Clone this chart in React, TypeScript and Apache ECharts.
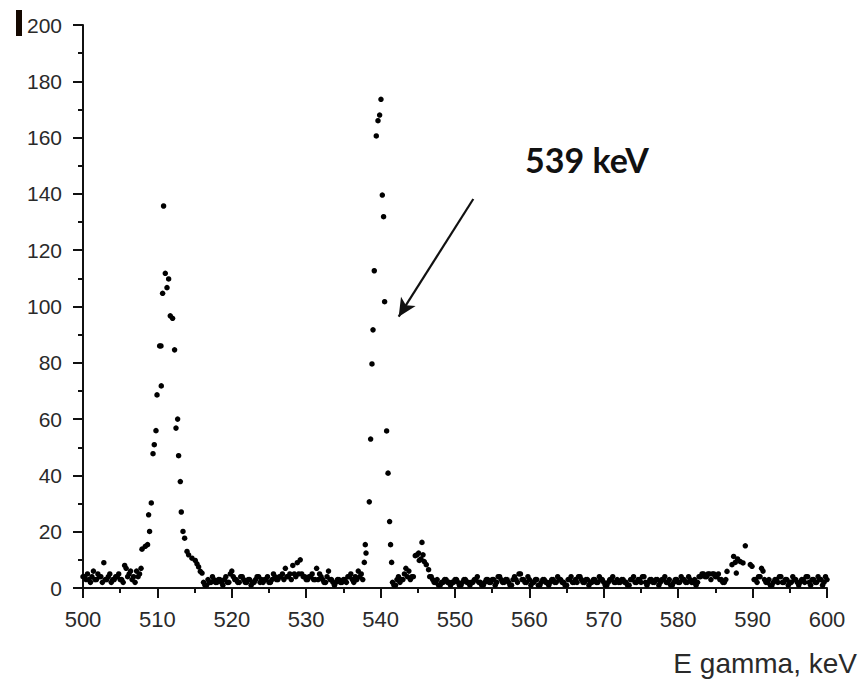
import React, { useEffect, useRef } from "react";
import * as echarts from "echarts";

// ---- Data ----
const BIN = 0.2; // keV per channel on the flat background
const X_TICKS = { min: 500, max: 600, interval: 10 };
const Y_TICKS = { min: 0, max: 200, interval: 20 };

// background segments: start energy + counts per 0.2 keV channel
const bgAStart = 500.0;
const bgA = [
  4, 4, 3, 5, 3, 2, 4, 6, 3, 3,
  5, 4, 4, 2, 9, 3, 3, 4, 5, 2,
  3, 3, 4, 4, 5, 3, 3, 2, 8, 7,
  4, 5, 6, 3, 4, 2, 6, 4, 5, 7,
];
const bgBStart = 516.2;
const bgB = [
  2, 1, 1, 3, 2, 2, 4, 3, 2, 2,
  3, 3, 2, 1, 3, 4, 2, 2, 5, 6,
  4, 3, 3, 2, 2, 4, 4, 3, 2, 2,
  3, 3, 1, 2, 2, 3, 4, 4, 2, 3,
  2, 3, 3, 4, 2, 2, 3, 5, 4, 3,
  3, 4, 4, 5, 3, 7, 4, 4, 5, 3,
  8, 5, 4, 9, 5, 10, 5, 4, 4, 3,
  3, 4, 4, 5, 3, 3, 7, 3, 5, 4,
  3, 2, 2, 4, 6, 3, 3, 2, 1, 2,
  3, 3, 2, 2, 3, 3, 2, 4, 4, 5,
  3, 2, 4, 3, 6, 4, 5, 3,
];
const bgCStart = 541.6;
const bgC = [2, 1, 1, 3, 4, 2, 3, 3, 5, 7, 4, 6, 3, 4, 4];
const bgDStart = 546.6;
const bgD = [
  4, 4, 3, 2, 2, 3, 1, 1, 2, 2,
  3, 3, 2, 2, 1, 2, 2, 3, 3, 2,
  1, 1, 2, 3, 3, 2, 2, 1, 2, 2,
  3, 3, 4, 2, 2, 1, 1, 2, 3, 3,
  2, 2, 3, 3, 1, 2, 4, 4, 3, 2,
  2, 3, 3, 2, 1, 1, 3, 4, 3, 2,
  5, 5, 3, 3, 2, 2, 4, 3, 1, 2,
  2, 3, 3, 1, 1, 2, 3, 3, 2, 2,
  1, 2, 3, 3, 2, 2, 4, 3, 3, 2,
  2, 1, 1, 3, 3, 4, 2, 2, 3, 2,
  4, 4, 3, 2, 2, 3, 3, 1, 2, 2,
  3, 3, 2, 2, 4, 3, 3, 2, 1, 1,
  2, 3, 3, 4, 2, 2, 3, 2, 2, 3,
  3, 2, 2, 1, 1, 3, 3, 4, 2, 2,
  3, 3, 2, 4, 4, 2, 1, 2, 3, 3,
  2, 2, 3, 3, 1, 2, 3, 3, 4, 2,
  2, 3, 1, 1, 2, 3, 3, 2, 2, 4,
  3, 3, 2, 2, 4, 3, 2, 2, 3, 1,
  2, 4, 4, 5, 5, 4, 4, 5, 5, 3,
  5, 5, 4, 4, 5, 3, 3, 2, 2, 3,
];
const bgEStart = 590.2;
const bgE = [
  3, 3, 2, 4, 4, 7, 6, 3, 2, 2,
  3, 1, 1, 2, 3, 3, 2, 4, 4, 2,
  2, 3, 3, 1, 2, 2, 4, 3, 3, 2,
  1, 2, 3, 3, 2, 4, 4, 2, 1, 3,
  3, 2, 2, 4, 3, 3, 1, 2, 4, 3,
];

// peaks: individually read points
const peak511E = [
  507.93, 508.37, 508.68, 508.82, 508.95, 509.18, 509.41, 509.58, 509.81, 509.95,
  510.3, 510.48, 510.52, 510.7, 510.83, 511.06, 511.29, 511.51, 511.73, 512.04,
  512.31, 512.5, 512.72, 512.85, 513.08, 513.21, 513.44, 513.66, 513.98, 514.19,
  514.65, 515.09, 515.32, 515.54, 515.77, 516.0,
];
const peak511C = [
  13.8, 14.8, 15.4, 26.0, 20.1, 30.2, 47.7, 50.9, 55.9, 68.6,
  86.0, 86.0, 71.8, 104.7, 135.7, 111.8, 106.7, 109.8, 96.7, 95.8,
  84.6, 56.8, 60.0, 47.0, 37.8, 27.0, 20.1, 17.7, 13.0, 11.8,
  10.6, 9.8, 8.6, 7.5, 5.9, 5.3,
];
const peak539E = [
  537.81, 537.94, 538.04, 538.48, 538.66, 538.84, 538.98, 539.15, 539.42, 539.65,
  539.87, 540.05, 540.23, 540.4, 540.54, 540.81, 541.0, 541.21, 541.34, 541.48,
];
const peak539C = [
  9.1, 15.4, 12.4, 30.6, 52.9, 79.6, 91.7, 112.7, 160.6, 166.0,
  168.0, 173.6, 139.6, 131.9, 101.7, 55.8, 40.8, 23.6, 15.4, 9.1,
];
const peak545E = [544.66, 544.89, 545.11, 545.2, 545.43, 545.56, 545.7, 545.87, 546.14, 546.45];
const peak545C = [11.5, 11.8, 12.4, 9.8, 10.3, 16.2, 11.8, 9.4, 8.3, 6.5];
const peak588E = [586.56, 587.23, 587.45, 587.67, 587.81, 587.98, 588.35, 588.71, 589.02, 589.69, 589.92];
const peak588C = [5.9, 8.3, 11.2, 9.1, 5.3, 10.3, 9.4, 8.9, 15.0, 8.3, 7.7];

// annotation
const annotationText = "539 keV";
const arrowFrom: [number, number] = [552.46, 138.2];
const arrowTo: [number, number] = [542.43, 96.4];
const xTitle = "E gamma, keV";

function seg(start: number, values: number[]): [number, number][] {
  return values.map((v, i) => [Number((start + i * BIN).toFixed(2)), v]);
}
function pairs(es: number[], cs: number[]): [number, number][] {
  return es.map((e, i) => [e, cs[i]]);
}

const allPoints: [number, number][] = [
  ...seg(bgAStart, bgA),
  ...pairs(peak511E, peak511C),
  ...seg(bgBStart, bgB),
  ...pairs(peak539E, peak539C),
  ...seg(bgCStart, bgC),
  ...pairs(peak545E, peak545C),
  ...seg(bgDStart, bgD),
  ...pairs(peak588E, peak588C),
  ...seg(bgEStart, bgE),
];

const AXIS_COLOR = "#111";
const LABEL_COLOR = "#2a2a2a";
const FONT = "'Liberation Sans', Arial, sans-serif";

export default function App() {
  const ref = useRef<HTMLDivElement>(null);
  useEffect(() => {
    if (!ref.current) return;
    const chart = echarts.init(ref.current, null, { renderer: "svg" });
    chart.setOption({
      animation: false,
      backgroundColor: "#ffffff",
      grid: { left: 83, right: 32, top: 25, bottom: 93, outerBoundsMode: "none" },
      xAxis: {
        type: "value",
        min: X_TICKS.min,
        max: X_TICKS.max,
        interval: X_TICKS.interval,
        axisLine: { show: true, onZero: false, lineStyle: { color: AXIS_COLOR, width: 2 } },
        axisTick: { show: true, length: 10, lineStyle: { color: AXIS_COLOR, width: 2 } },
        minorTick: { show: true, splitNumber: 2, length: 5, lineStyle: { color: AXIS_COLOR, width: 2 } },
        axisLabel: { fontSize: 22, color: LABEL_COLOR, fontFamily: FONT, margin: 20 },
        splitLine: { show: false },
        minorSplitLine: { show: false },
      },
      yAxis: {
        type: "value",
        min: Y_TICKS.min,
        max: Y_TICKS.max,
        interval: Y_TICKS.interval,
        axisLine: { show: true, lineStyle: { color: AXIS_COLOR, width: 2 } },
        axisTick: { show: true, length: 10, lineStyle: { color: AXIS_COLOR, width: 2 } },
        minorTick: { show: true, splitNumber: 2, length: 5, lineStyle: { color: AXIS_COLOR, width: 2 } },
        axisLabel: { fontSize: 21, color: LABEL_COLOR, fontFamily: FONT, margin: 21 },
        splitLine: { show: false },
        minorSplitLine: { show: false },
      },
      series: [
        {
          type: "scatter",
          data: allPoints,
          symbol: "circle",
          symbolSize: 5.5,
          itemStyle: { color: "#000", opacity: 1 },
          silent: true,
          markLine: {
            silent: true,
            symbol: ["none", "arrow"],
            symbolSize: [13, 18],
            label: { show: false },
            lineStyle: { color: "#111", width: 2.2, type: "solid", opacity: 1 },
            data: [[{ coord: arrowFrom }, { coord: arrowTo }]],
          },
        },
      ],
      graphic: [
        {
          type: "rect",
          shape: { x: 16, y: 10, width: 6, height: 26 },
          style: { fill: "#140800" },
        },
        {
          type: "text",
          x: 587,
          y: 159,
          style: {
            text: annotationText,
            font: "bold 34px Lato, 'Open Sans', sans-serif",
            fill: "#111",
            textAlign: "center",
            textVerticalAlign: "middle",
          },
        },
        {
          type: "text",
          x: 857,
          y: 663,
          style: {
            text: xTitle,
            font: "28px 'Liberation Sans', Arial, sans-serif",
            fill: LABEL_COLOR,
            textAlign: "right",
            textVerticalAlign: "middle",
          },
        },
      ],
    });
    return () => chart.dispose();
  }, []);
  return (
    <div
      ref={ref}
      style={{ position: "absolute", left: 0, top: 0, width: 859, height: 681 }}
    />
  );
}
